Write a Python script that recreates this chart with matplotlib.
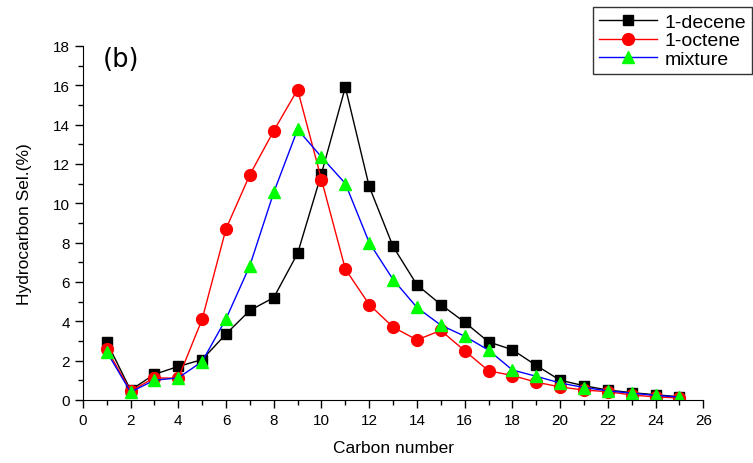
import matplotlib.pyplot as plt
from matplotlib.ticker import MultipleLocator

plt.rcParams['font.family'] = ['Liberation Sans', 'DejaVu Sans']

# carbon numbers C1..C25
carbon = list(range(1, 26))
decene = [2.95, 0.5, 1.3, 1.7, 2.05, 3.35, 4.55, 5.2, 7.45, 11.5, 15.9, 10.85, 7.8,
          5.85, 4.85, 3.95, 2.95, 2.55, 1.75, 1.0, 0.72, 0.5, 0.37, 0.26, 0.16]
octene = [2.6, 0.45, 1.12, 1.1, 4.1, 8.7, 11.45, 13.68, 15.78, 11.2, 6.65, 4.85, 3.7,
          3.05, 3.53, 2.5, 1.48, 1.24, 0.9, 0.66, 0.5, 0.42, 0.25, 0.15, 0.1]
mixture = [2.45, 0.4, 1.0, 1.12, 1.95, 4.12, 6.83, 10.55, 13.75, 12.35, 11.0, 8.0, 6.12,
           4.7, 3.8, 3.24, 2.53, 1.52, 1.2, 0.86, 0.63, 0.46, 0.34, 0.23, 0.14]

fig = plt.figure(figsize=(7.53, 4.64), dpi=100)
ax = fig.add_axes([0.110, 0.136, 0.824, 0.763])

ax.plot(carbon, decene, color='black', lw=1, marker='s', ms=7.5,
        mfc='black', mec='black', label='1-decene')
ax.plot(carbon, octene, color='red', lw=1, marker='o', ms=8.5,
        mfc='red', mec='red', label='1-octene')
ax.plot(carbon, mixture, color='blue', lw=1, marker='^', ms=9,
        mfc='#00ff00', mec='#00ff00', label='mixture')

ax.set_xlim(0, 26)
ax.set_ylim(0, 18)
ax.xaxis.set_major_locator(MultipleLocator(2))
ax.xaxis.set_minor_locator(MultipleLocator(1))
ax.yaxis.set_major_locator(MultipleLocator(2))
ax.yaxis.set_minor_locator(MultipleLocator(1))
ax.tick_params(which='major', direction='out', length=6, width=1, labelsize=11)
ax.tick_params(which='minor', direction='out', length=3.5, width=1)
ax.spines['top'].set_visible(False)
ax.spines['right'].set_visible(False)

ax.set_xlabel('Carbon number', fontsize=12.5, labelpad=9)
ax.set_ylabel('Hydrocarbon Sel.(%)', fontsize=12.5, labelpad=15)
ax.text(0.032, 1.0, '(b)', transform=ax.transAxes, fontsize=18.5,
        family=['DejaVu Sans'], va='top', ha='left')

leg = fig.legend(loc='upper right', bbox_to_anchor=(0.999, 0.982),
                 fontsize=14, frameon=True, fancybox=False, edgecolor='black',
                 handlelength=3.0, borderpad=0.3, labelspacing=0.05,
                 handletextpad=0.4, borderaxespad=0)
leg.get_frame().set_linewidth(1)

fig.savefig('out.png', dpi=100)
